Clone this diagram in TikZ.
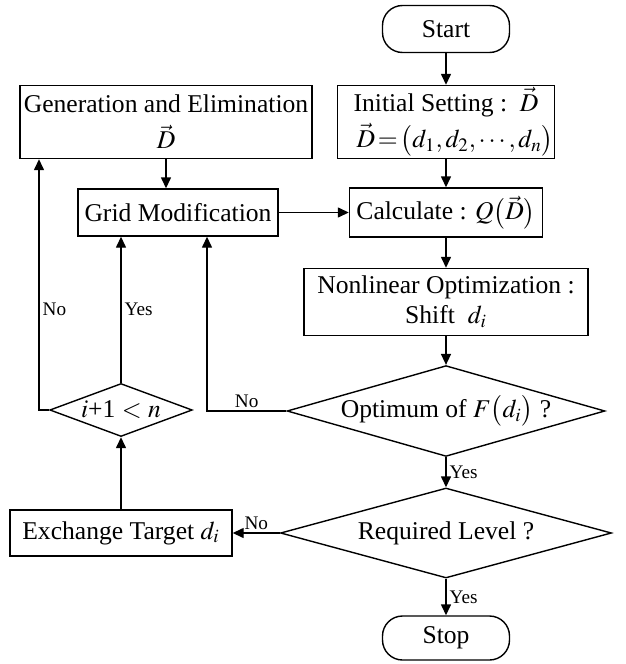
\documentclass[tikz,border=0pt]{standalone}
\usepackage{mathptmx}
\usepackage[no-math]{fontspec}
\setmainfont{Liberation Serif}
\usepackage{tikz}
\usetikzlibrary{shapes.geometric, arrows.meta}

\begin{document}
\begin{tikzpicture}[
        x=0.5pt, y=-0.5pt,
        font=\fontsize{12.8pt}{15pt}\selectfont,
        line width=0.7pt,
        terminal/.style={
            rectangle,
            draw,
            rounded corners=10pt,
            minimum width=63.5pt,
            minimum height=23.5pt,
            inner sep=0pt
        },
        block/.style={
            rectangle,
            draw,
            align=center,
            inner sep=0pt
        },
        decision/.style={
            diamond,
            draw,
            shape aspect=3.5,
            inner sep=0pt
        },
        line/.style={
            draw,
            -{Triangle[length=5.5pt,width=5pt]}
        },
        tag/.style={
            font=\fontsize{9.6pt}{11pt}\selectfont,
            inner sep=1.5pt
        }
    ]
    \useasboundingbox (0,0) rectangle (626,664);

    % Nodes
    \node[terminal] (start) at (446,29) {Start};
    \node[block, minimum width=108.5pt, minimum height=36.5pt] (init) at (446,122)
        {Initial Setting :\ \ $\vec{D}$\\[3pt] \hspace*{9pt}$\vec{D}\!=\!\bigl(d_1,d_2,\cdots,d_n\bigr)$};
    \node[block, minimum width=146pt, minimum height=36.5pt] (gen) at (166,122)
        {Generation and Elimination\\[3pt] $\vec{D}$};
    \node[block, minimum width=100pt, minimum height=23.5pt] (grid) at (178,212.5) {Grid Modification};
    \node[block, minimum width=96.5pt, minimum height=24.5pt] (calc) at (446,212.5) {Calculate : $Q\bigl(\vec{D}\bigr)$};
    \node[block, minimum width=142pt, minimum height=33.5pt] (nonlin) at (446,302)
        {Nonlinear Optimization :\\ Shift\ \ $d_i$};
    \node[decision, minimum width=150pt, minimum height=41.5pt] (optimum) at (446,411) {Optimum of $F\bigl(d_i\bigr)$ ?};
    \node[decision, minimum width=66pt, minimum height=26.5pt] (count) at (121,410) {$i$+1 $<$ $n$};
    \node[decision, minimum width=165.5pt, minimum height=45pt] (level) at (446,533) {Required Level ?};
    \node[block, minimum width=111pt, minimum height=23pt] (exchange) at (121,533) {Exchange Target $d_i$};
    \node[terminal, minimum height=22pt] (stop) at (446,638) {Stop};
    \coordinate (retry) at (207,411);
    \coordinate (restart) at (39,410);

    % Arrows
    \path[line] (start) -- (init);
    \path[line] (init) -- (calc);
    \path[line] (calc) -- (nonlin);
    \path[line] (nonlin) -- (optimum);
    \path[line] (optimum) -- node[tag, right] {Yes} (level);
    \path[line] (level) -- node[tag, right] {Yes} (stop);
    \path[line] (level) -- node[tag, above] {No} (exchange);
    \path[line] (exchange) -- (count);
    \path[line] (count.north) -- node[tag, right] {Yes} (count.north |- grid.south);
    \path[line] (gen.south) -- (gen.south |- grid.north);
    \path[line] (grid) -- (calc);
    \path[line] (optimum.west) -- node[tag, above] {No} (retry) -- (retry |- grid.south);
    \path[line] (count.west) -- (restart) -- node[tag, right, pos=0.4] {No} (restart |- gen.south);
\end{tikzpicture}
\end{document}
